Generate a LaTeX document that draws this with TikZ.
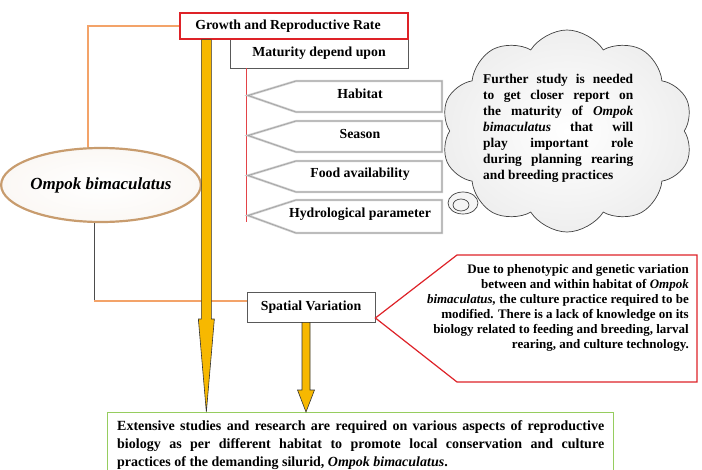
\documentclass[tikz,border=0pt]{standalone}
\usepackage{fontspec}
\setmainfont{Liberation Serif}
\usetikzlibrary{shapes.symbols,shapes.geometric,calc}
\definecolor{boxred}{RGB}{222,34,40}
\definecolor{linkorange}{RGB}{243,163,105}
\definecolor{arrowgold}{RGB}{247,184,0}
\definecolor{rimbrown}{RGB}{200,156,110}
\definecolor{leafgreen}{RGB}{150,205,95}
\tikzset{
  heading/.style={draw=boxred,line width=1.3pt,fill=white,minimum width=228pt,minimum height=26pt,inner sep=0pt},
  plainbox/.style={draw=black!65,line width=0.8pt,fill=white,inner sep=0pt},
  species/.style={ellipse,draw=rimbrown,line width=2.2pt,inner color=white,outer color=rimbrown!7,minimum width=168pt,minimum height=74pt,inner sep=0pt,font=\bfseries\itshape\fontsize{17}{20}\selectfont},
  factor/.style={fill=white,draw=gray!40,line width=2.2pt,line join=miter,postaction={draw=gray!75,line width=0.6pt}},
  thought/.style={cloud,cloud puffs=10,cloud puff arc=115,aspect=1.25,draw=black!75,line width=0.7pt,inner color=white,outer color=gray!13},
  bubble/.style={draw=black!75,line width=0.7pt,fill=gray!8},
  cloudtext/.style={anchor=north west,inner sep=0pt,align=left,font=\bfseries\fontsize{13.4}{16}\selectfont},
  alertbox/.style={draw=boxred,line width=1.2pt,fill=white,line join=miter},
  alerttext/.style={anchor=north east,inner sep=0pt,align=right,font=\bfseries\fontsize{13}{15}\selectfont},
  conclbox/.style={draw=leafgreen,line width=0.8pt,fill=white,anchor=north west,inner sep=0pt},
  concltext/.style={anchor=north west,inner sep=0pt,align=left,font=\bfseries\fontsize{14}{18}\selectfont},
  linkline/.style={draw=linkorange,line width=1.1pt},
  stemline/.style={draw=black!70,line width=0.8pt},
  thinred/.style={draw=boxred!85,line width=0.8pt},
  goldarrow/.style={fill=arrowgold,draw=black!80,line width=0.6pt,line join=miter}
}
\begin{document}
\begin{tikzpicture}[x=1pt,y=-1pt,every node/.style={font=\bfseries\fontsize{13.8}{16}\selectfont}]
\useasboundingbox (0,0) rectangle (702,469);

\node[plainbox,minimum width=178pt,minimum height=29pt] (maturity) at (319,53.5) {Maturity depend upon};
\node[heading] (growth) at (294,26) {Growth and Reproductive Rate\hspace*{12pt}};
\node[plainbox,minimum width=128pt,minimum height=30pt] (spatial) at (311,307) {Spatial Variation};
\node[species] (obim) at (101,185) {Ompok bimaculatus};
\node[conclbox,minimum width=506pt,minimum height=75pt] (concl) at (107,412) {};

\draw[linkline] ([xshift=-13pt]obim.north) |- (growth.west);
\coordinate (turn) at (94,301);
\draw[stemline] (obim.south -| turn) -- (turn);
\draw[linkline] (turn) -- (turn -| spatial.west);
\draw[thinred] ([xshift=17pt]maturity.south west) -- ++(0,154);

\foreach \t/\b/\lbl/\nm in {81/112/Habitat/habitat,121/152/Season/season,161/192/Food availability/food,200/233/Hydrological parameter/hydro}{
  \draw[factor] (248,{(\t+\b)/2-1}) -- (296,\t) -- (442,\t) -- (442,\b) -- (296,\b) -- cycle;
  \node (\nm) at (360,{(\t+\b)/2-2.5}) {\lbl};
}

\node[thought,minimum width=252pt,minimum height=202pt] (cloud) at (567,131) {};
\draw[bubble] (463,203) ellipse (15pt and 11pt);
\draw[bubble] (461,205) ellipse (8pt and 6pt);
\node[cloudtext] (note) at (483,74) {%
\makebox[150pt][s]{Further study is needed}\\
\makebox[150pt][s]{to get closer report on}\\
\makebox[150pt][s]{the maturity of \textit{Ompok}}\\
\makebox[150pt][s]{\textit{bimaculatus} that will}\\
\makebox[150pt][s]{play important role}\\
\makebox[150pt][s]{during planning rearing}\\
and breeding practices};

\draw[alertbox] ([yshift=-11pt]spatial.east) -- (457,255) -- (697,255) -- (697,382) -- (457,382) -- cycle;
\node[alerttext] (variation) at (689,264) {Due to phenotypic and genetic variation\\
between and within habitat of \textit{Ompok}\\
\textit{bimaculatus,} the culture practice required to be\\
modified. There is a lack of knowledge on its\\
biology related to feeding and breeding, larval\\
rearing, and culture technology.};

\draw[goldarrow] let \p1=([xshift=27pt]growth.south west), \p2=(concl.north) in
  (\x1-5pt,\y1) -- (\x1-5pt,\y2+93pt) -- (\x1-8pt,\y2+93pt) -- (\x1,\y2) -- (\x1+8pt,\y2+93pt) -- (\x1+5pt,\y2+93pt) -- (\x1+5pt,\y1) -- cycle;
\draw[goldarrow] let \p1=([xshift=-5pt]spatial.south), \p2=(concl.north) in
  (\x1-4pt,\y1) -- (\x1-4pt,\y2+22pt) -- (\x1-8.5pt,\y2+22pt) -- (\x1,\y2) -- (\x1+8.5pt,\y2+22pt) -- (\x1+4pt,\y2+22pt) -- (\x1+4pt,\y1) -- cycle;

\node[concltext] (summary) at (117,420) {%
\makebox[487pt][s]{Extensive studies and research are required on various aspects of reproductive}\\
\makebox[487pt][s]{biology as per different habitat to promote local conservation and culture}\\
practices of the demanding silurid, \textit{Ompok bimaculatus}.};
\end{tikzpicture}
\end{document}
